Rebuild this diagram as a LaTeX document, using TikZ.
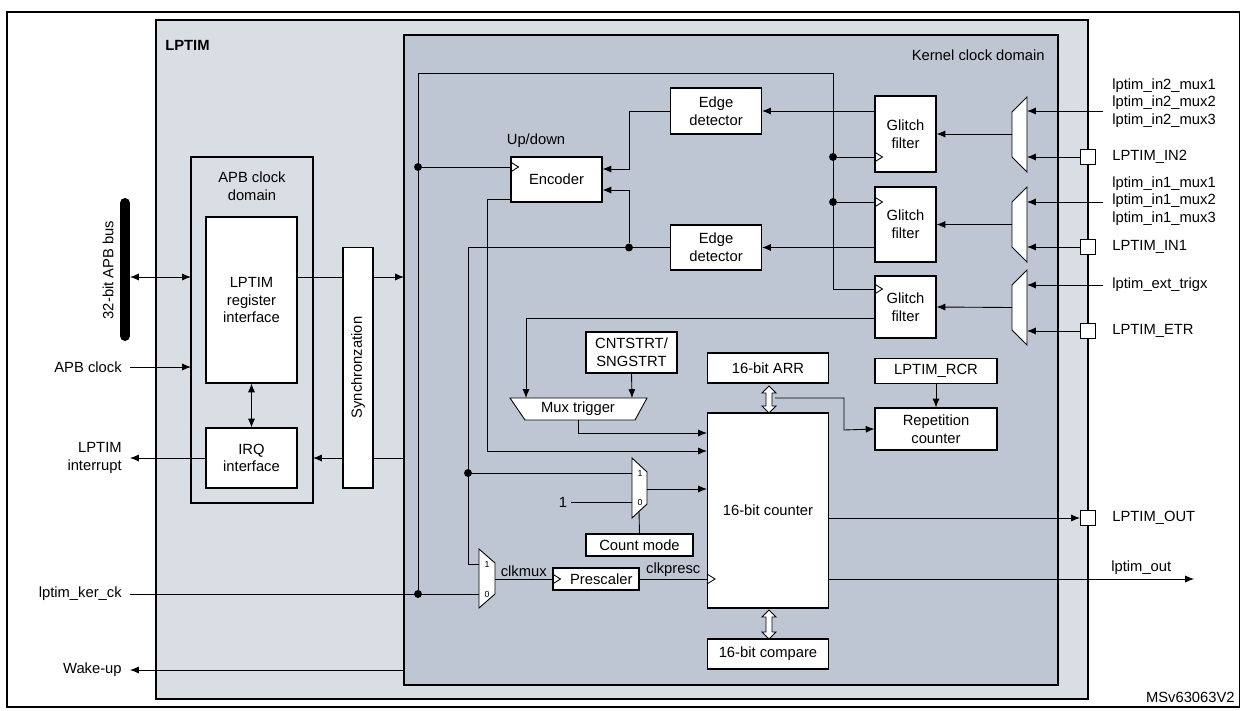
\documentclass[tikz,border=0pt]{standalone}
\usepackage{fontspec}
\setmainfont{Liberation Sans}
\usetikzlibrary{arrows.meta,calc}

\definecolor{lptimbg}{HTML}{D9DDE4}
\definecolor{kernbg}{HTML}{BEC6D3}

\tikzset{
  every node/.style={font=\fontsize{8.4}{10}\selectfont, inner sep=0pt},
  blk/.style={draw, fill=white, align=center, line width=.6pt},
  wire/.style={line width=.5pt},
  arr/.style={wire, -{Latex[length=5pt,width=4pt]}},
  dot/.style={fill, circle, minimum size=4.5pt},
  pad/.style={draw, fill=white, minimum size=0.3cm, line width=.6pt},
  thk/.style={line width=1.5pt},
}
% clock input triangle on the west side of a box
\newcommand{\clkin}[2]{\draw[wire] ($(#1.west |- 0,#2)+(0,5)$) -- ++(8,-5) -- ++(-8,-5);}
% hollow two-way bus arrow
\newcommand{\busarr}[3]{\draw[wire, fill=white] (#1,#2) -- ++(-7,7) -- ++(4,0) -- ++(0,#3-#2-14) -- ++(-4,0)
  -- ++(7,7) -- ++(7,-7) -- ++(-4,0) -- ++(0,-#3+#2+14) -- ++(4,0) -- cycle;}

\begin{document}
\begin{tikzpicture}[x=0.02cm, y=-0.02cm]
\useasboundingbox (0,0) rectangle (1240,710);
% frames
\draw[line width=.8pt] (7,12) rectangle (1240,707);
\draw[thk, fill=lptimbg] (156,20) rectangle (1088,699);
\draw[thk, fill=kernbg] (404,35) rectangle (1058,685);
\node[anchor=west, font=\fontsize{8.4}{10}\selectfont\bfseries] at (165,45) {LPTIM};
\node[anchor=east] at (1045,55) {Kernel clock domain};
\node[anchor=east] at (1235,697) {MSv63063V2};

% APB clock domain
\draw[thk] (191,157) rectangle (313,503);
\node[align=center] at (252,186) {APB clock\\domain};
\node[blk, minimum width=1.82cm, minimum height=3.32cm] (reg) at (251.5,300) {LPTIM\\register\\interface};
\node[blk, minimum width=1.82cm, minimum height=1.2cm] (irq) at (251.5,458) {IRQ\\interface};
\node[blk, minimum width=0.6cm, minimum height=4.82cm] (sync) at (358,367.5) {};
\node[rotate=90] at (sync) {Synchronzation};

% bus and left side signals
\draw[line width=0.2cm, line cap=round] (125,203) -- (125,336);
\node[rotate=90] at (108,270) {32-bit APB bus};
\coordinate (bus) at (130,277);
\draw[wire, {Latex[length=5pt,width=4pt]}-{Latex[length=5pt,width=4pt]}] (bus) -- (191,277);
\node[anchor=east] (apbclk) at (122,367) {APB clock};
\draw[arr] (apbclk.east) ++(8,0) -- (191,367);
\draw[wire, {Latex[length=5pt,width=4pt]}-{Latex[length=5pt,width=4pt]}] (reg.south) -- (irq.north);
\node[anchor=east, align=right] (irqout) at (122,458) {LPTIM\\interrupt};
\draw[arr] (irq.west) -- ($(irqout.east)+(8,0)$);
\draw[wire] (reg.east |- 0,277) -- (sync.west |- 0,277);
\draw[arr] (sync.east |- 0,277) -- (404,277);
\draw[wire] (404,458) -- (sync.east |- 0,458);
\draw[arr] (sync.west |- 0,458) -- (313,458);
\node[anchor=east] (kerck) at (122,594) {lptim\_ker\_ck};
\node[anchor=east] (wake) at (122,670) {Wake-up};
\draw[arr] (404,670) -- ($(wake.east)+(8,0)$);

% kernel blocks
\node[blk, minimum width=1.82cm, minimum height=0.9cm] (enc) at (556.5,179.5) {Encoder};
\node at (536,141) {Up/down};
\node[blk, minimum width=1.82cm, minimum height=0.92cm] (ed1) at (716,111) {Edge\\detector};
\node[blk, minimum width=1.82cm, minimum height=0.9cm] (ed2) at (716,247.5) {Edge\\detector};
\node[blk, minimum width=1.22cm, minimum height=1.52cm] (gf1) at (905.5,134) {Glitch\\filter};
\node[blk, minimum width=1.22cm, minimum height=1.5cm] (gf2) at (905.5,224.5) {Glitch\\filter};
\node[blk, minimum width=1.22cm, minimum height=1.24cm] (gf3) at (905.5,307) {Glitch\\filter};
\node[blk, minimum width=1.82cm, minimum height=0.82cm] (cnt) at (631.5,352.5) {CNTSTRT/\\SNGSTRT};
\node[blk, minimum width=2.42cm, minimum height=0.6cm] (arr) at (768,368) {16-bit ARR};
\node[blk, minimum width=2.44cm, minimum height=0.5cm] (rcr) at (936,371) {LPTIM\_RCR};
\node[blk, minimum width=2.44cm, minimum height=0.84cm] (rep) at (936,429) {Repetition\\counter};
\node[blk, minimum width=2.42cm, minimum height=3.9cm] (ctr) at (768,510.5) {16-bit counter};
\node[blk, minimum width=2.42cm, minimum height=0.6cm] (cmp) at (768,654) {16-bit compare};
\node[blk, minimum width=2.14cm, minimum height=0.44cm] (cmode) at (639.5,545) {Count mode};
\node[blk, minimum width=1.72cm, minimum height=0.44cm] (pre) at (596,579) {\hspace{6pt}Prescaler};
\clkin{enc}{167}
\clkin{gf1}{157}
\clkin{gf2}{202}
\clkin{gf3}{289}
\clkin{ctr}{579}
\clkin{pre}{579}

% multiplexers
\draw[wire, fill=white] (510,398) -- (647,398) -- (635,420) -- (525,420) -- cycle;
\node (mtrig) at (578,409) {Mux trigger};
\draw[wire, fill=white] (632,458) -- (647,472) -- (647,504) -- (632,518) -- cycle;
\node[font=\fontsize{5}{6}\selectfont] at (640,473) {1};
\node[font=\fontsize{5}{6}\selectfont] at (640,502) {0};
\draw[wire, fill=white] (479,549) -- (495,563) -- (495,594) -- (479,608) -- cycle;
\node[font=\fontsize{5}{6}\selectfont] at (487,564) {1};
\node[font=\fontsize{5}{6}\selectfont] at (487,594) {0};
\foreach \y in {97,187,270}
  \draw[wire, fill=white] (1027,\y) -- (1027,\y+75) -- (1012,\y+60) -- (1012,\y+15) -- cycle;

% clock tree
\coordinate (kck) at (418,594);
\node[dot] (d1) at (418,167) {};
\node[dot] (d2) at (833,157) {};
\node[dot] (d3) at (833,202) {};
\node[dot] (d0) at (kck) {};
\draw[wire] (kerck.east) ++(8,0) -- (479,594);
\draw[wire] (kck) -- (418,73) -| (833,289) -- (gf3.west |- 0,289);
\draw[wire] (d1) -- (enc.west |- d1);
\draw[wire] (d2) -- (gf1.west |- d2);
\draw[wire] (d3) -- (gf2.west |- d3);

% edge detectors and encoder
\draw[arr] (gf1.west |- ed1) -- (ed1.east);
\draw[arr] (gf2.west |- ed2) -- (ed2.east);
\draw[arr] (ed1.west) -| (629,169) -- (enc.east |- 0,169);
\node[dot] (d4) at (629,247.5) {};
\draw[arr] (d4) -- (629,190) -- (enc.east |- 0,190);
\draw[wire] (ed2.west) -- (468,247.5) |- (479,564);
\node[dot] (d5) at (468,473) {};
\draw[wire] (d5) -- (632,473);
\draw[arr] (enc.west |- 0,199) -- (487,199) |- (ctr.west |- 0,451);

% trigger path
\draw[arr] (gf3.west |- 0,318) -- (526,318) -- (526,398);
\draw[arr] (cnt.south |- 0,373) -- (632,398);
\draw[arr] (578,420) |- (ctr.west |- 0,433);

% count mode and prescaler
\node (one) at (563,502) {1};
\draw[wire] (one.east) ++(4,0) -- (632,502);
\draw[arr] (647,489) -- (ctr.west |- 0,489);
\draw[wire] (639,511) -- (cmode.north);
\draw[wire] (495,579) -- (pre.west) node[midway, above=1pt] {clkmux};
\draw[wire] (pre.east) -- (ctr.west |- pre) node[midway, above=1pt] {clkpresc};

% counter outputs and registers
\busarr{769}{386}{413}
\busarr{769}{610}{639}
\draw[arr] (775,398) -| (844,430) -- (rep.west);
\draw[arr] (rcr.south) -- (rep.north);
\node[pad] (pout) at (1088,518) {};
\node[anchor=west] at (1112,518) {LPTIM\_OUT};
\draw[arr] (ctr.east |- pout) -- (pout.west);
\coordinate (lout) at (1194,579);
\draw[arr] (ctr.east |- lout) -- (lout);
\node[anchor=west] at (1111,568) {lptim\_out};

% input pads and muxes
\node[pad] (pin2) at (1088,157) {};
\node[pad] (pin1) at (1088,247) {};
\node[pad] (petr) at (1088,331) {};
\node[anchor=west] at (1112,157) {LPTIM\_IN2};
\node[anchor=west] at (1112,247) {LPTIM\_IN1};
\node[anchor=west] at (1112,331) {LPTIM\_ETR};
\node[anchor=west, align=left] at (1112,103) {lptim\_in2\_mux1\\lptim\_in2\_mux2\\lptim\_in2\_mux3};
\node[anchor=west, align=left] at (1112,201) {lptim\_in1\_mux1\\lptim\_in1\_mux2\\lptim\_in1\_mux3};
\node[anchor=west] at (1112,285) {lptim\_ext\_trigx};
\draw[arr] (1103,111) -- (1027,111);
\draw[arr] (1103,202) -- (1027,202);
\draw[arr] (1103,285) -- (1027,285);
\draw[arr] (pin2.west) -- (1027,157);
\draw[arr] (pin1.west) -- (1027,247);
\draw[arr] (petr.west) -- (1027,331);
\draw[arr] (1012,134) -- (gf1.east);
\draw[arr] (1012,224.5) -- (gf2.east);
\draw[arr] (1012,307.5) -- (gf3.east);
\end{tikzpicture}
\end{document}
